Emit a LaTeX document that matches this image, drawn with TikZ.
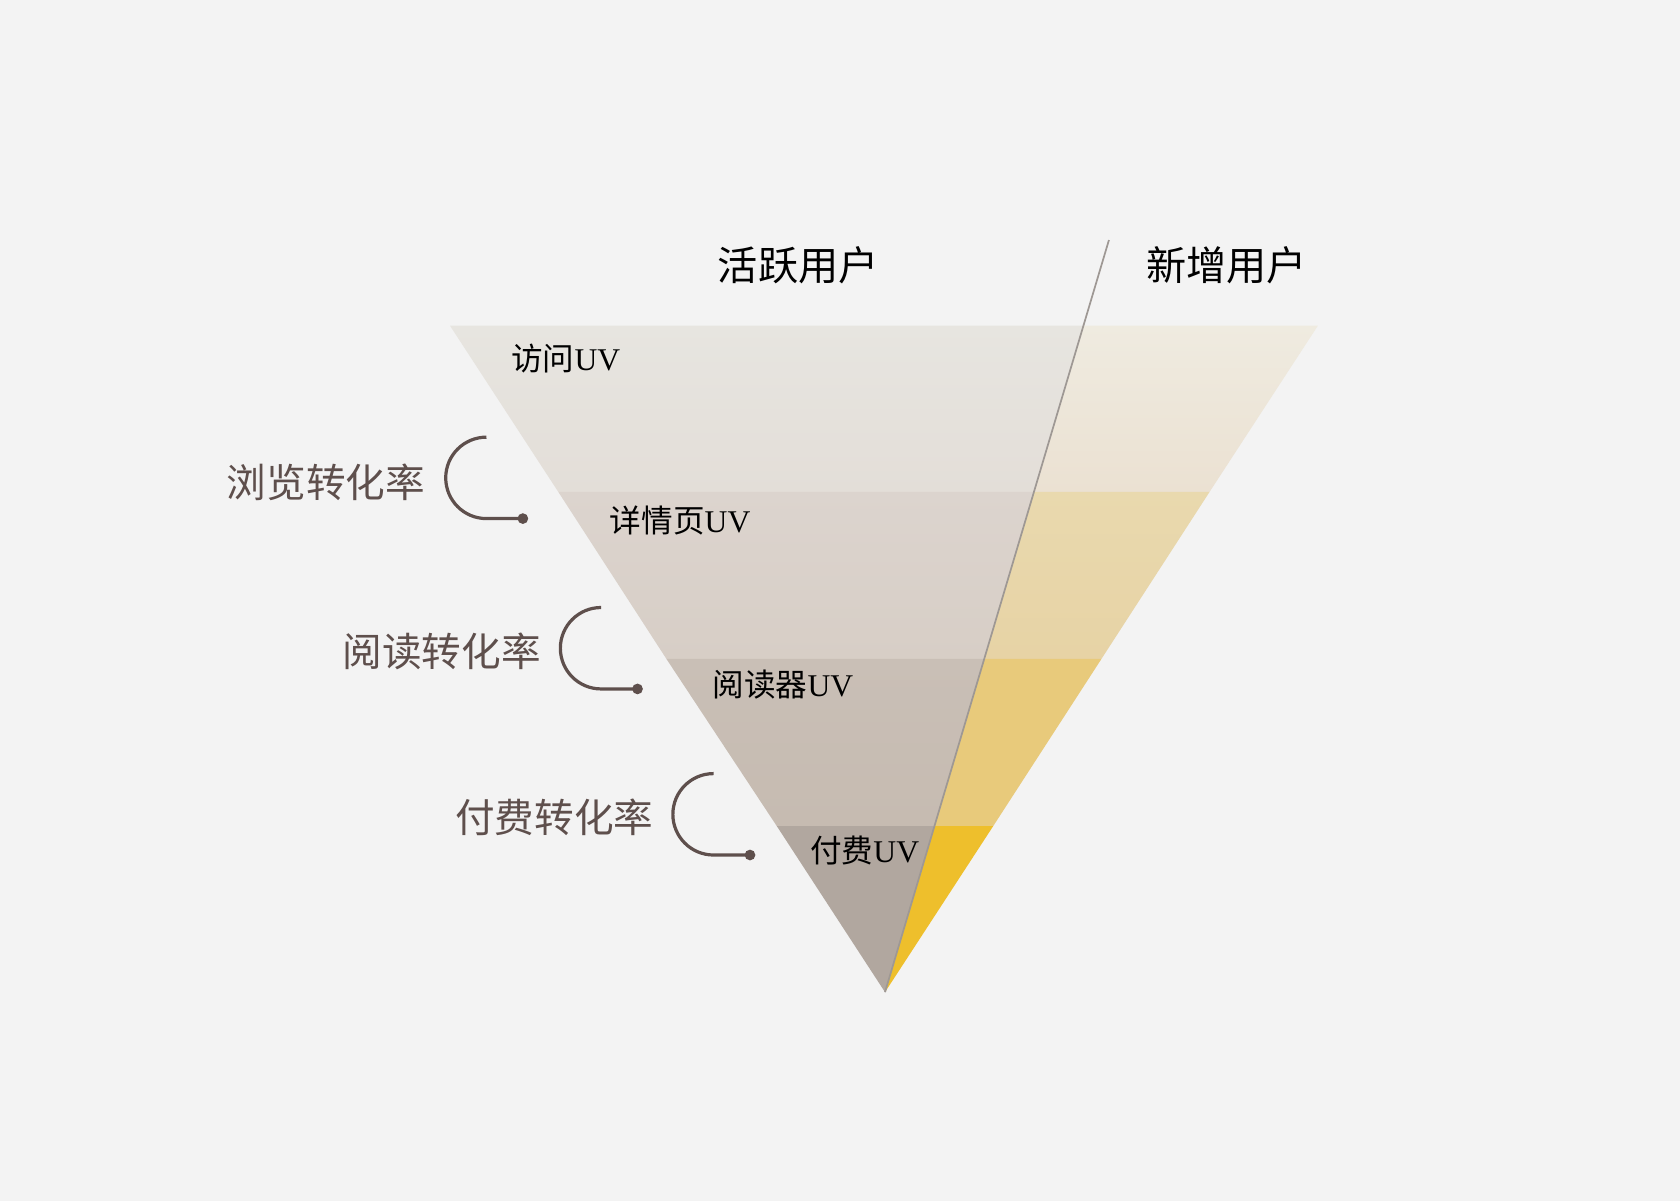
\documentclass[tikz,border=0pt]{standalone}
\usepackage{fontspec}
\setmainfont{Liberation Serif}
\newfontfamily\cjk{Noto Sans CJK SC}
\begin{document}
\begin{tikzpicture}[x=1pt,y=-1pt,
  head/.style={inner sep=0pt,font=\fontsize{37.5}{42}\selectfont\cjk,text=black},
  rate/.style={inner sep=0pt,anchor=east,font=\fontsize{37}{42}\selectfont\cjk,text=ratebrown},
  stage/.style={inner sep=0pt,anchor=west,font=\fontsize{29.5}{34}\selectfont,text=black},
  bracket/.style={draw=ratebrown,line width=3pt},
  divider/.style={draw=dividergray,line width=1.6pt}]
\definecolor{bggray}{HTML}{F3F3F3}
\definecolor{ratebrown}{HTML}{5E4F4C}
\definecolor{dividergray}{HTML}{9E9894}
\useasboundingbox (0,0) rectangle (1568,1120);
\fill[bggray] (-10,-10) rectangle (1578,1130);
\coordinate (tl) at (420,304);
\coordinate (tr) at (1230,304);
\coordinate (apex) at (826,926);
\coordinate (cut) at (1035,224);
% active users side
\shade[top color={rgb,255:red,231;green,229;blue,224},bottom color={rgb,255:red,227;green,222;blue,216}]
  (420,304) -- (1011,304) -- (965,459) -- (521,459) -- cycle;
\shade[top color={rgb,255:red,220;green,212;blue,206},bottom color={rgb,255:red,215;green,206;blue,198}]
  (521,459) -- (965,459) -- (918.6,615) -- (622,615) -- cycle;
\shade[top color={rgb,255:red,201;green,191;blue,182},bottom color={rgb,255:red,198;green,187;blue,177}]
  (622,615) -- (918.6,615) -- (872,771) -- (725,771) -- cycle;
\fill[fill={rgb,255:red,177;green,167;blue,159}]
  (725,771) -- (872,771) -- (apex) -- cycle;
% new users side
\shade[top color={rgb,255:red,239;green,235;blue,224},bottom color={rgb,255:red,235;green,225;blue,210}]
  (1011,304) -- (tr) -- (1129,459) -- (965,459) -- cycle;
\shade[top color={rgb,255:red,233;green,217;blue,174},bottom color={rgb,255:red,231;green,211;blue,165}]
  (965,459) -- (1129,459) -- (1028,615) -- (918.6,615) -- cycle;
\fill[fill={rgb,255:red,232;green,202;blue,123}]
  (918.6,615) -- (1028,615) -- (927,771) -- (872,771) -- cycle;
\fill[fill={rgb,255:red,238;green,191;blue,44}]
  (872,771) -- (927,771) -- (apex) -- cycle;
\draw[divider] (cut) -- (apex);

\node[head] (active) at (745,248) {活跃用户};
\node[head] (fresh) at (1145,248) {新增用户};

\node[stage] (visit) at (477,335) {{\cjk 访问}UV};
\node[stage] (detail) at (569,486) {{\cjk 详情页}UV};
\node[stage] (reader) at (665,639) {{\cjk 阅读器}UV};
\node[stage] (paid) at (756,794) {{\cjk 付费}UV};

\node[rate] (browse) at (397,450) {浏览转化率};
\node[rate] (read) at (505,608) {阅读转化率};
\node[rate] (pay) at (610,763) {付费转化率};

\coordinate (b1) at (454,408);
\coordinate (b2) at (561,567);
\coordinate (b3) at (666,722);
\foreach \b in {b1,b2,b3}{
  \draw[bracket] (\b) arc[start angle=270,end angle=90,radius=38] -- ++(34,0) coordinate (\b end);
  \fill[ratebrown] (\b end) circle (5);
}
\end{tikzpicture}
\end{document}
